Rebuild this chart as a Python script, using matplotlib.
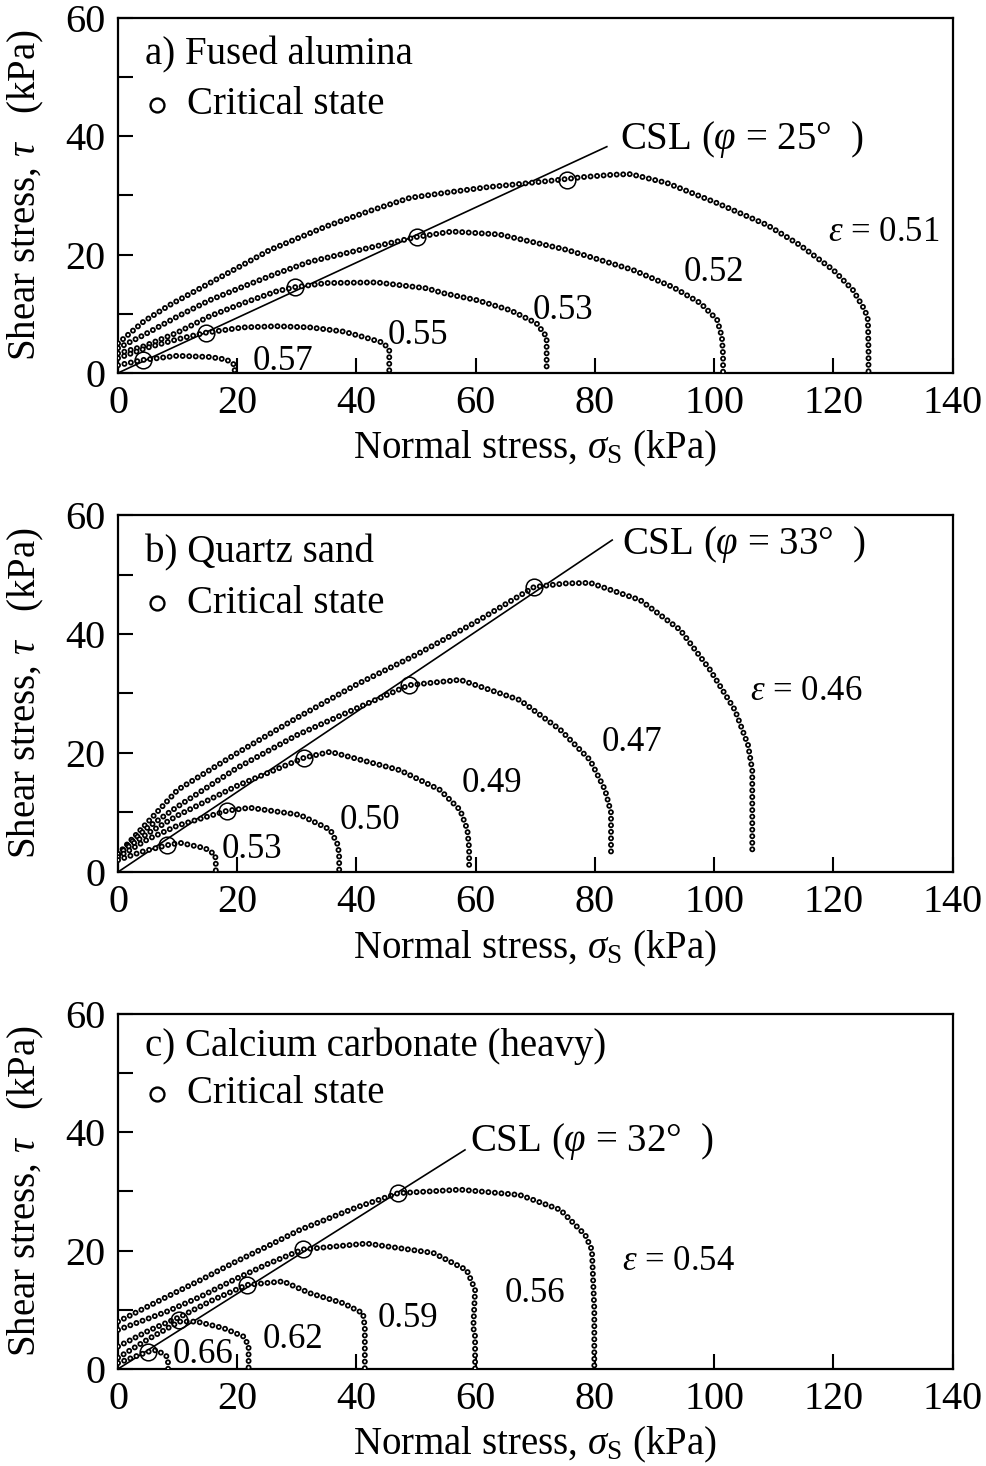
import matplotlib
matplotlib.use("Agg")
import matplotlib.pyplot as plt

# ---- panel a) Fused alumina: yield loci (sigma, tau) in kPa ----
a_eps = ["0.51", "0.52", "0.53", "0.55", "0.57"]
a_051_s = [0, 4.3, 8.7, 15.4, 21.0, 25.5, 35, 42, 49, 56, 62, 68, 73.7, 78, 83, 86,
           92.1, 100.5, 108.9, 114.4, 120, 123.3, 125.3, 125.8, 125.9, 125.9]
a_051_t = [5.0, 8.7, 11.5, 15.2, 18.3, 20.8, 24.8, 27.3, 29.6, 30.6, 31.4, 32.0, 32.6, 33.1, 33.5, 33.6,
           32.1, 28.7, 25.0, 21.6, 17.4, 14.0, 10.6, 9.0, 4.0, 0]
a_052_s = [0, 4.3, 9.9, 15.4, 21.0, 26.6, 32.2, 40.6, 50.2, 56, 64, 75.3, 86.4, 93.1, 97.7, 100.5, 101.3, 101.5, 101.5]
a_052_t = [4.2, 6.4, 9.5, 12.3, 14.6, 16.8, 18.8, 20.8, 23.0, 23.9, 23.4, 20.8, 17.4, 14.5, 11.8, 9.0, 6.1, 3.0, 0]
a_053_s = [0, 4.3, 9.9, 15.4, 21.0, 26.6, 29.7, 35, 43.4, 51.8, 54.5, 60.2, 65.8, 70.2, 71.9, 71.9]
a_053_t = [3.3, 4.5, 6.8, 9.6, 11.8, 13.8, 14.5, 15.2, 15.3, 14.3, 13.5, 12.3, 10.6, 8.4, 6.1, 0]
a_055_s = [0, 5, 10, 14.7, 21, 26.6, 32.2, 37.8, 41.1, 44.5, 45.5, 45.5]
a_055_t = [2.5, 4.3, 5.7, 6.8, 7.7, 7.9, 7.7, 7.0, 6.1, 5.1, 3.9, 0]
a_057_s = [0, 4.2, 9.9, 15.4, 18.2, 19.5, 19.6]
a_057_t = [1.3, 2.2, 2.9, 2.7, 2.25, 1.4, 0]
a_crit_s = [75.3, 50.2, 29.7, 14.7, 4.2]
a_crit_t = [32.6, 23.0, 14.5, 6.8, 2.2]

# ---- panel b) Quartz sand ----
b_eps = ["0.46", "0.47", "0.49", "0.50", "0.53"]
b_046_s = [0, 10, 20, 30, 40, 50, 60, 69.8, 75, 79.2, 87.6, 94.3, 99.3, 103.5, 105.7, 106.4, 106.4]
b_046_t = [3.0, 13.8, 20.0, 25.9, 31.5, 36.5, 42.0, 47.9, 48.5, 48.6, 45.7, 40.7, 34.0, 27.2, 21.3, 17.1, 3.7]
b_047_s = [0, 5, 10, 20, 30, 40, 48.8, 57.4, 67.4, 74.2, 79.2, 81.7, 82.7, 82.7]
b_047_t = [3.0, 7.5, 11.0, 17.5, 23.0, 27.5, 31.4, 32.3, 28.9, 23.9, 18.8, 13.8, 10.0, 3.4]
b_049_s = [0, 5, 10, 20, 31.2, 35.6, 47.3, 54.0, 57.4, 58.6, 58.9, 58.9]
b_049_t = [3.0, 6.5, 9.5, 14.5, 19.2, 20.2, 17.1, 13.8, 10.4, 7.1, 4.0, 0.3]
b_050_s = [0, 5, 10, 18.3, 22.1, 30.5, 35.6, 36.9, 37.1, 37.1]
b_050_t = [2.5, 5.5, 7.8, 10.3, 10.8, 9.6, 7.1, 4.5, 2.5, 0]
b_053_s = [0, 4, 8.2, 10.4, 14.6, 16.3, 16.4, 16.4]
b_053_t = [2.0, 3.4, 4.5, 4.9, 4.0, 2.9, 1.5, 0]
b_crit_s = [69.8, 48.8, 31.2, 18.3, 8.2]
b_crit_t = [47.9, 31.4, 19.2, 10.3, 4.5]

# ---- panel c) Calcium carbonate (heavy) ----
c_eps = ["0.54", "0.56", "0.59", "0.62", "0.66"]
c_054_s = [0, 8.2, 13.8, 19.3, 25, 30.5, 40, 47, 57.4, 67.4, 74.2, 78.4, 79.5, 79.9, 79.9]
c_054_t = [8.0, 12.2, 15.0, 17.9, 20.7, 23.5, 27.3, 29.7, 30.3, 29.4, 26.9, 22.6, 20.1, 10, 0]
c_056_s = [0, 8.2, 13.8, 19.3, 25, 31, 41.7, 52.9, 58.5, 59.9, 59.6, 59.9, 59.9]
c_056_t = [6.6, 9.7, 12.2, 15.0, 17.7, 20.2, 21.2, 19.6, 16.7, 13.4, 7.0, 5.5, 0]
c_059_s = [0, 5.4, 10.4, 16, 21.6, 27.7, 32.2, 37.8, 41.1, 41.4, 41.4]
c_059_t = [3.8, 6.6, 8.8, 11.7, 14.2, 14.8, 12.8, 11.1, 9.4, 7, 0]
c_062_s = [0, 5, 10.3, 13.2, 17.7, 21, 21.9, 21.9]
c_062_t = [1.9, 5.0, 8.0, 8.0, 6.9, 5.5, 4, 0]
c_066_s = [0, 5.0, 6.5, 8.2, 8.4, 8.4]
c_066_t = [1.0, 2.9, 3.2, 2.1, 1, 0]
c_crit_s = [47.0, 31.0, 21.6, 10.3, 5.0]
c_crit_t = [29.7, 20.2, 14.2, 8.2, 2.9]

csl_phi = [25, 33, 32]
csl_slope = [0.4663, 0.673, 0.636]   # as drawn in the figure
csl_end = [82.0, 82.9, 58.2]
titles = ["a) Fused alumina", "b) Quartz sand", "c) Calcium carbonate (heavy)"]

plt.rcParams["font.family"] = ["Liberation Serif", "DejaVu Serif"]
plt.rcParams["mathtext.fontset"] = "custom"
plt.rcParams["mathtext.rm"] = "Liberation Serif"
plt.rcParams["mathtext.it"] = "Liberation Serif:italic"
plt.rcParams["lines.scale_dashes"] = False
FS = 28      # titles, axis labels
FT = 29      # tick labels
FA = 25      # void ratio labels


def dotted(ax, s, t):
    # chain of small open circles along the locus
    dots = (0, (0.01, 4.7))
    ax.plot(s, t, color="black", lw=4.3, ls=dots, dash_capstyle="round", zorder=3)
    ax.plot(s, t, color="white", lw=1.7, ls=dots, dash_capstyle="round", zorder=3)


def panel(ax, curves, crit_s, crit_t, labels, label_pos, k, title_y, leg_y, csl_pos):
    ax.set_xlim(0, 140)
    ax.set_ylim(0, 60)
    xe = csl_end[k]
    ax.plot([0, xe], [0, xe * csl_slope[k]], color="black", lw=1.2, zorder=2)
    for s, t in curves:
        dotted(ax, s, t)
    ax.plot(crit_s, crit_t, ls="none", marker="o", ms=12, mfc="none", mec="black", mew=1.1, zorder=4)
    for lab, (x, y) in zip(labels, label_pos):
        ax.text(x, y, lab, fontsize=FA, ha="left", va="center")
    ax.text(csl_pos[0], csl_pos[1], "CSL ($\\varphi$ = %d°  )" % csl_phi[k],
            fontsize=FS, ha="left", va="center")
    ax.text(4.5, title_y, titles[k], fontsize=FS, ha="left", va="center")
    ax.plot([6.5], [leg_y], ls="none", marker="o", ms=10, mfc="none", mec="black", mew=1.7)
    ax.text(11.6, leg_y, "Critical state", fontsize=FS, ha="left", va="center")
    ax.set_xticks(range(0, 141, 20))
    ax.set_yticks(range(0, 61, 20))
    ax.set_yticks(range(10, 60, 20), minor=True)
    ax.tick_params(direction="in", length=11, width=1.5, labelsize=FT, pad=9, top=False, right=False)
    ax.tick_params(which="minor", direction="in", length=11, width=1.5, left=True)
    for sp in ax.spines.values():
        sp.set_linewidth(1.6)
    ax.set_xlabel("Normal stress, $\\sigma_\\mathrm{S}$ (kPa)", fontsize=FS)
    ax.xaxis.set_label_coords(0.5, -0.158)
    ax.set_ylabel("Shear stress, $\\tau$   (kPa)", fontsize=FS)
    ax.yaxis.set_label_coords(-0.086, 0.5)


fig = plt.figure(figsize=(9.87, 14.66), dpi=100)
ax_a = fig.add_axes([0.1196, 0.7456, 0.8455, 0.2422])
ax_b = fig.add_axes([0.1196, 0.4052, 0.8455, 0.2435])
ax_c = fig.add_axes([0.1196, 0.0662, 0.8455, 0.2422])

panel(ax_a,
      [(a_051_s, a_051_t), (a_052_s, a_052_t), (a_053_s, a_053_t), (a_055_s, a_055_t), (a_057_s, a_057_t)],
      a_crit_s, a_crit_t,
      ["$\\varepsilon$ = " + a_eps[0]] + a_eps[1:],
      [(119.1, 23.8), (94.8, 16.9), (69.6, 10.6), (45.3, 6.4), (22.65, 1.9)],
      0, 53.7, 45.3, (84.2, 39.5))

panel(ax_b,
      [(b_046_s, b_046_t), (b_047_s, b_047_t), (b_049_s, b_049_t), (b_050_s, b_050_t), (b_053_s, b_053_t)],
      b_crit_s, b_crit_t,
      ["$\\varepsilon$ = " + b_eps[0]] + b_eps[1:],
      [(106.0, 30.3), (81.2, 21.7), (57.7, 14.8), (37.2, 8.7), (17.4, 3.7)],
      1, 53.6, 45.2, (84.6, 55.0))

panel(ax_c,
      [(c_054_s, c_054_t), (c_056_s, c_056_t), (c_059_s, c_059_t), (c_062_s, c_062_t), (c_066_s, c_066_t)],
      c_crit_s, c_crit_t,
      ["$\\varepsilon$ = " + c_eps[0]] + c_eps[1:],
      [(84.6, 18.1), (64.9, 12.8), (43.6, 8.6), (24.2, 4.9), (9.1, 2.4)],
      2, 54.6, 46.5, (59.1, 38.4))

fig.savefig("out.png", dpi=100)
